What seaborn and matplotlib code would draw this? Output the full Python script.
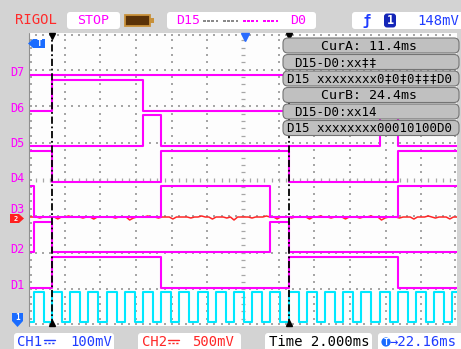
import numpy as np
import pandas as pd
import matplotlib
matplotlib.use("Agg")
import matplotlib.pyplot as plt
import matplotlib.transforms as mtransforms
from matplotlib.patches import FancyBboxPatch, Rectangle, Polygon, Circle
from matplotlib.lines import Line2D
import seaborn as sns

# ---------------- captured data ----------------
# logic channels, top to bottom on the screen
channel_names = ["D7", "D6", "D5", "D4", "D3", "D2", "D1"]
# instants (ms) at which the logic bus changes; every channel holds one bit
# for each interval before / between / after these edges
bus_edges_ms = [10.4, 11.4, 16.4, 17.4, 23.4, 24.4, 29.4, 30.4]
d7_bits = [0, 0, 0, 0, 0, 0, 0, 0, 0]
d6_bits = [0, 0, 1, 0, 0, 0, 0, 0, 0]
d5_bits = [0, 0, 0, 1, 0, 0, 0, 1, 0]
d4_bits = [1, 1, 0, 0, 1, 1, 0, 0, 1]
d3_bits = [1, 0, 0, 0, 1, 0, 0, 0, 1]
d2_bits = [0, 1, 0, 0, 0, 1, 0, 0, 0]
d1_bits = [0, 0, 1, 1, 0, 0, 1, 1, 0]

# CH1: clock rising edges (ms) and its high time
clock_rise_ms = [10.4, 11.4, 12.4, 13.4, 14.4, 15.4, 16.4, 17.4, 18.4, 19.4,
                 20.4, 21.4, 22.4, 23.4, 24.4, 25.4, 26.4, 27.4, 28.4, 29.4,
                 30.4, 31.4, 32.4, 33.4]
clock_high_ms = 0.55

# CH2: residual noise around its reference level (mV)
ch2_mv = [0, 0, 0, -14, 0, 0, 0, 0, -27, 0, 0, 14, 0, 0, 0, -14, 0, 0, -28, 0,
          0, 0, 0, 0, -14, 0, 0, 0, -41, -14, 0, 0, 0, 14, 0, 0, -14, 0, 0, 0,
          -27, 0, 0, 0, 0, -14, 0, 0, 14, 0, 0, -28, 0, 0, 0, -14, 0, -41, 0, 0,
          0, 0, -14, 0, 0, 0, 14, 0, 0, -27, 0, 0, 0, -14, 0, 0, 0, 0, -28, 0,
          0, 14, 0, 0, -14, 0, 0, 0, -27, 0, 0, 0, -14, 0, 0, 14, 0, 0, -41, -14,
          0, 0, 0, -14, 0, 0, 0, -28, 0, 0, 0, 14, 0, -14, 0, 0, 0, -27, 0, 0]

cursor_a_ms = 11.4
cursor_b_ms = 24.4
bus_hex_a = "xx‡‡"
bus_bin_a = "xxxxxxxx0‡0‡0‡‡‡"
bus_hex_b = "xx14"
bus_bin_b = "xxxxxxxx00010100"
trigger_level_mv = 148
trigger_offset_ms = 22.16
timebase_ms = 2.0
ch1_scale_mv = 100
ch2_scale_mv = 500

view_start_ms = 10.136
view_end_ms = 33.653

# ---------------- styling ----------------
MAGENTA = "#ff00ff"
CYAN = "#00e8ff"
RED = "#ff2626"
BLUE = "#1f3cff"
GRID = "#a6a6a6"
W, H = 461, 349

sns.set_style("white")
plt.rcParams["font.family"] = ["DejaVu Sans Mono", "DejaVu Sans"]

fig = plt.figure(figsize=(W / 100, H / 100), dpi=100)
fig.patch.set_facecolor("#d3d3d3")
# pixel-space transform: x from the left, y from the top
px = mtransforms.Affine2D().scale(1 / W, -1 / H).translate(0, 1) + fig.transFigure

L, T, R, B = 29, 33, 457, 326
ax = fig.add_axes([L / W, 1 - B / H, (R - L) / W, (B - T) / H])
ax.set_facecolor("#fdfdfd")

# ---------------- graticule ----------------
dots_v = np.arange(1, 40) / 40
dots_h = np.arange(1, 60) / 60
for i in range(1, 12):
    if i == 6:
        continue
    ax.scatter(np.full(dots_v.size, i / 12), dots_v, s=1.3, marker="s", c=GRID,
               lw=0, transform=ax.transAxes, zorder=1)
for j in range(1, 8):
    if j == 4:
        continue
    ax.scatter(dots_h, np.full(dots_h.size, j / 8), s=1.3, marker="s", c=GRID,
               lw=0, transform=ax.transAxes, zorder=1)
ax.scatter(np.full(dots_v.size, 0.5), dots_v, s=8, marker="_", c=GRID, lw=0.9,
           transform=ax.transAxes, zorder=1)
ax.scatter(dots_h, np.full(dots_h.size, 0.5), s=8, marker="|", c=GRID, lw=0.9,
           transform=ax.transAxes, zorder=1)
for yy in (0.993, 0.007):
    ax.scatter(dots_h, np.full(dots_h.size, yy), s=1.3, marker="s", c=GRID,
               lw=0, transform=ax.transAxes, zorder=1)
for xx in (0.004, 0.996):
    ax.scatter(np.full(dots_v.size, xx), dots_v, s=1.3, marker="s", c=GRID,
               lw=0, transform=ax.transAxes, zorder=1)

# ---------------- logic channels ----------------
bit_table = {"D7": d7_bits, "D6": d6_bits, "D5": d5_bits, "D4": d4_bits,
             "D3": d3_bits, "D2": d2_bits, "D1": d1_bits}
low0, slot, swing = 1.04, 0.968, 0.84
base_level = {name: low0 + (len(channel_names) - 1 - k) * slot
              for k, name in enumerate(channel_names)}
times = [view_start_ms] + bus_edges_ms + [view_end_ms]
rows = []
for name in channel_names:
    bits = bit_table[name]
    for t, b in zip(times, bits + bits[-1:]):
        rows.append({"t": t, "level": base_level[name] + swing * b, "channel": name})
logic = pd.DataFrame(rows)
sns.lineplot(data=logic, x="t", y="level", units="channel", estimator=None,
             sort=False, color=MAGENTA, lw=1.5, drawstyle="steps-post",
             ax=ax, legend=False, zorder=4)

# ---------------- CH2 (analog, noisy baseline) ----------------
ch2_ref = base_level["D3"]
ch2_t = np.linspace(view_start_ms, view_end_ms, len(ch2_mv))
ch2_level = ch2_ref + np.asarray(ch2_mv) / ch2_scale_mv
sns.lineplot(x=ch2_t, y=ch2_level, color=RED, lw=1.1, estimator=None,
             sort=False, ax=ax, zorder=3)

# ---------------- CH1 clock ----------------
clk_t, clk_v = [view_start_ms], [0]
for r in clock_rise_ms:
    clk_t += [r, r + clock_high_ms]
    clk_v += [1, 0]
clock = pd.DataFrame({"t": clk_t, "level": 0.11 + 0.82 * np.asarray(clk_v)})
sns.lineplot(data=clock, x="t", y="level", estimator=None, sort=False,
             color=CYAN, lw=1.5, drawstyle="steps-post", ax=ax, zorder=4)

# ---------------- cursors ----------------
for c in (cursor_a_ms, cursor_b_ms):
    ax.axvline(c, color="black", lw=1.3, ls=(0, (4, 1.5, 1, 1.5)), zorder=6)
    ax.plot([c], [7.92], marker="v", ms=4.5, color="black", zorder=7, clip_on=False)
    ax.plot([c], [0.08], marker="^", ms=4.5, color="black", zorder=7, clip_on=False)
ax.plot([0.505], [0.985], marker="v", ms=5.5, color="#2a6cff",
        transform=ax.transAxes, zorder=7, clip_on=False)

ax.set_xlim(view_start_ms, view_end_ms)
ax.set_ylim(0, 8)
ax.set_xticks([])
ax.set_yticks([])
ax.set_xlabel("")
ax.set_ylabel("")
for s in ax.spines.values():
    s.set_visible(False)
fig.add_artist(Line2D([L, L], [T, B], transform=px, color="#8f8f8f", lw=0.8))

# ---------------- channel labels & markers ----------------
lab_tr = mtransforms.blended_transform_factory(px, ax.transData)
for name in channel_names:
    dy = 0.2 if name == "D3" else 0.07
    fig.text(10, base_level[name] + dy, name, transform=lab_tr, color=MAGENTA,
             fontsize=8.5, ha="left", va="center", zorder=5)
fig.add_artist(Polygon([(10, 214), (19, 214), (24, 218.5), (19, 223), (10, 223)],
                       closed=True, transform=px, fc="#ff2020", ec="none", zorder=6))
fig.text(15.5, 219.2, "2", transform=px, color="white", fontsize=5,
         fontweight="bold", ha="center", va="center", zorder=7)
fig.add_artist(Polygon([(28, 43.5), (33, 39), (45, 39), (45, 48), (33, 48)],
                       closed=True, transform=px, fc="#1a6cff", ec="none", zorder=6))
fig.text(39.5, 43.8, "T", transform=px, color="white", fontsize=6.5,
         fontweight="bold", ha="center", va="center", zorder=7)
fig.add_artist(Polygon([(12, 313), (23, 313), (23, 321), (17.5, 327), (12, 321)],
                       closed=True, transform=px, fc="#1a6cff", ec="none", zorder=6))
fig.text(17.5, 317.5, "1", transform=px, color="white", fontsize=5.5,
         fontweight="bold", ha="center", va="center", zorder=7)

# ---------------- cursor readout panel ----------------
panel = [
    (38.0, f"CurA: {cursor_a_ms:.1f}ms", "center", 9.5),
    (54.5, f"D15-D0:{bus_hex_a}", "left", 9),
    (71.0, f"D15 {bus_bin_a}D0", "center", 9),
    (87.5, f"CurB: {cursor_b_ms:.1f}ms", "center", 9.5),
    (104.0, f"D15-D0:{bus_hex_b}", "left", 9),
    (120.5, f"D15 {bus_bin_b}D0", "center", 9),
]
for top, txt, align, fs in panel:
    fig.add_artist(FancyBboxPatch((283, top), 176, 15,
                                  boxstyle="round,pad=0,rounding_size=5",
                                  transform=px, fc="#c0c0c0", ec="#747474",
                                  lw=0.8, zorder=8))
    xpos = 369 if align == "center" else 294
    fig.text(xpos, top + 8, txt, transform=px, color="black", fontsize=fs,
             ha=align, va="center", zorder=9)

# ---------------- top status bar ----------------
def white_box(x, y, w, h):
    fig.add_artist(FancyBboxPatch((x, y), w, h, boxstyle="round,pad=0,rounding_size=3",
                                  transform=px, fc="white", ec="none", zorder=2))

fig.text(15, 20.5, "RIGOL", transform=px, color="#ff2a2a", fontsize=10,
         ha="left", va="center")
white_box(67, 12, 53, 17)
fig.text(93.5, 20.8, "STOP", transform=px, color=MAGENTA, fontsize=9.5,
         ha="center", va="center", zorder=3)
fig.add_artist(Rectangle((125, 15), 25, 11, transform=px, fc="#5a3208",
                         ec="#c8913a", lw=1.3, zorder=2))
fig.add_artist(Rectangle((150, 18), 3.5, 5, transform=px, fc="#c8913a",
                         ec="none", zorder=2))
white_box(167, 12, 149, 17)
fig.text(176, 20.8, "D15", transform=px, color=MAGENTA, fontsize=9.5,
         ha="left", va="center", zorder=3)
fig.text(290, 20.8, "D0", transform=px, color=MAGENTA, fontsize=9.5,
         ha="left", va="center", zorder=3)
for g0, col in ((203, "#8a8a8a"), (223, "#8a8a8a"), (243, MAGENTA), (263, MAGENTA)):
    for k in range(4):
        fig.add_artist(Rectangle((g0 + 4.2 * k, 19.5), 2.6, 2, transform=px,
                                 fc=col, ec="none", zorder=3))
white_box(352, 12, 115, 17)
fig.text(367, 20.5, "ƒ", transform=px, color=BLUE, fontsize=10, fontweight="bold",
         ha="center", va="center", zorder=3)
fig.add_artist(FancyBboxPatch((384, 13.5), 12, 14, boxstyle="round,pad=0,rounding_size=3",
                              transform=px, fc="#1426b8", ec="none", zorder=3))
fig.text(390, 20.8, "1", transform=px, color="white", fontsize=8.5, fontweight="bold",
         ha="center", va="center", zorder=4)
fig.text(417, 20.8, f"{trigger_level_mv}mV", transform=px, color=BLUE, fontsize=10,
         ha="left", va="center", zorder=3)

# ---------------- bottom status bar ----------------
def dc_symbol(x, y, col):
    fig.add_artist(Line2D([x, x + 11], [y, y], transform=px, color=col, lw=1.0, zorder=3))
    fig.add_artist(Line2D([x, x + 11], [y + 3, y + 3], transform=px, color=col, lw=1.0,
                          ls=(0, (1.6, 1.2)), zorder=3))

white_box(14, 333, 100, 22)
fig.text(17, 342.5, "CH1", transform=px, color=BLUE, fontsize=10, ha="left",
         va="center", zorder=3)
dc_symbol(44, 339.5, BLUE)
fig.text(70, 342.5, f"{ch1_scale_mv}mV", transform=px, color=BLUE, fontsize=10,
         ha="left", va="center", zorder=3)
white_box(138, 333, 103, 22)
fig.text(142, 342.5, "CH2", transform=px, color=RED, fontsize=10, ha="left",
         va="center", zorder=3)
dc_symbol(168, 339.5, RED)
fig.text(192, 342.5, f"{ch2_scale_mv}mV", transform=px, color=RED, fontsize=10,
         ha="left", va="center", zorder=3)
white_box(265, 333, 107, 22)
fig.text(269, 342.5, f"Time {timebase_ms:.3f}ms", transform=px, color="black",
         fontsize=10, ha="left", va="center", zorder=3)
white_box(378, 333, 90, 22)
fig.add_artist(Circle((386, 342), 4.6, transform=px, fc="#1a6cff", ec="none", zorder=3))
fig.text(386, 342.3, "T", transform=px, color="white", fontsize=6, fontweight="bold",
         ha="center", va="center", zorder=4)
fig.text(390, 342.5, f"→{trigger_offset_ms:.2f}ms", transform=px, color=BLUE,
         fontsize=10, ha="left", va="center", zorder=3)

fig.savefig("out.png", dpi=100, facecolor=fig.get_facecolor())
